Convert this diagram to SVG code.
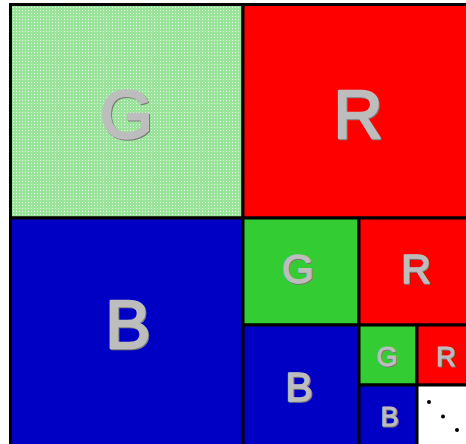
<svg xmlns="http://www.w3.org/2000/svg" width="466" height="444" viewBox="0 0 466 444">
  <defs>
    <pattern id="dots" x="0" y="0" width="3" height="3" patternUnits="userSpaceOnUse">
      <rect width="3" height="3" fill="#9ae39a"/>
      <rect x="1" y="1" width="1" height="1" fill="#e6f8e6"/>
    </pattern>
    <style>
      .cell { stroke: #000; stroke-width: 3; }
      .lg { fill: url(#dots); }
      .r { fill: #ff0000; }
      .g { fill: #33cc33; }
      .b { fill: #0000c4; }
      .w { fill: #ffffff; }
      text { font-family: "Liberation Sans", Arial, sans-serif; text-anchor: middle; stroke-linejoin: round; }
      .sh { fill: #7a7a7a; stroke: #7a7a7a; }
      .tx { fill: #bdbdbd; stroke: #bdbdbd; }
      .l1 { font-size: 68px; stroke-width: 2.4; }
      .l2 { font-size: 41px; stroke-width: 1.5; }
      .l3 { font-size: 27px; stroke-width: 1; }
    </style>
  </defs>
  <rect width="466" height="444" fill="#ffffff"/>

  <g id="node-G1">
    <rect class="cell lg" x="10.5" y="4.5" width="232.5" height="213.5"/>
    <text class="sh l1" x="127.5" y="138.5">G</text>
    <text class="tx l1" x="126.5" y="137.5">G</text>
  </g>
  <g id="node-R1">
    <rect class="cell r" x="243" y="4.5" width="240" height="213.5"/>
    <text class="sh l1" x="359" y="138.5">R</text>
    <text class="tx l1" x="358" y="137.5">R</text>
  </g>
  <g id="node-B1">
    <rect class="cell b" x="10.5" y="218" width="232.5" height="240"/>
    <text class="sh l1" x="129" y="348.5">B</text>
    <text class="tx l1" x="128" y="347.5">B</text>
  </g>

  <g id="node-G2">
    <rect class="cell g" x="243" y="218" width="116" height="107"/>
    <text class="sh l2" x="299" y="284">G</text>
    <text class="tx l2" x="298" y="283">G</text>
  </g>
  <g id="node-R2">
    <rect class="cell r" x="359" y="218" width="120" height="107"/>
    <text class="sh l2" x="417" y="284">R</text>
    <text class="tx l2" x="416" y="283">R</text>
  </g>
  <g id="node-B2">
    <rect class="cell b" x="243" y="325" width="116" height="130"/>
    <text class="sh l2" x="300" y="402">B</text>
    <text class="tx l2" x="299" y="401">B</text>
  </g>

  <g id="node-G3">
    <rect class="cell g" x="359" y="325" width="58" height="60"/>
    <text class="sh l3" x="388" y="367">G</text>
    <text class="tx l3" x="387" y="366">G</text>
  </g>
  <g id="node-R3">
    <rect class="cell r" x="417" y="325" width="60" height="60"/>
    <text class="sh l3" x="447" y="367">R</text>
    <text class="tx l3" x="446" y="366">R</text>
  </g>
  <g id="node-B3">
    <rect class="cell b" x="359" y="385" width="58" height="70"/>
    <text class="sh l3" x="390.5" y="427">B</text>
    <text class="tx l3" x="389.5" y="426">B</text>
  </g>
  <g id="node-rest">
    <rect class="cell w" x="417" y="385" width="60" height="70"/>
    <circle cx="429" cy="402" r="2" fill="#000"/>
    <circle cx="443" cy="416.5" r="2" fill="#000"/>
    <circle cx="457" cy="430" r="2" fill="#000"/>
  </g>
  <g id="connectors"></g>
</svg>
